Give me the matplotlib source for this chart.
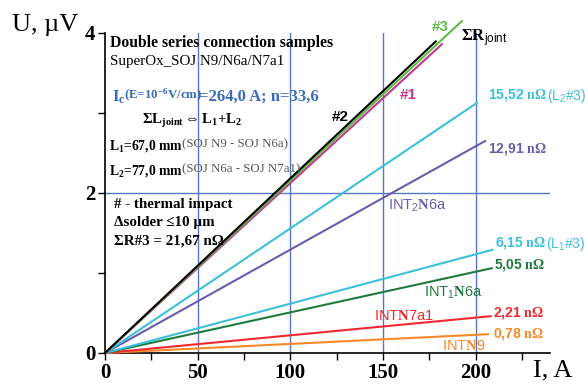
import matplotlib
matplotlib.use('Agg')
import matplotlib.pyplot as plt
from matplotlib.ticker import MultipleLocator

# line end points: current (A) and voltage (uV), all lines start at 0
names = ['#2', '#3', '#1', 'L2#3', 'INT2N6a', 'L1#3', 'INT1N6a', 'INTN7a1', 'INTN9']
I_end = [178.4, 192.5, 181.7, 200.5, 205.0, 209.0, 208.6, 208.0, 206.5]
U_end = [3.895, 4.15, 3.86, 3.125, 2.65, 1.29, 1.06, 0.46, 0.235]
colors = ['#000000', '#5dbb46', '#c2398f', '#3cc0da', '#6a5cab',
          '#3cc0da', '#1f7a3c', '#ee2a30', '#f7892a']

x_major = [0, 50, 100, 150, 200]
y_major = [0, 2, 4]

SERIF = ['Liberation Serif', 'DejaVu Serif']
SANS = ['Liberation Sans', 'DejaVu Sans']
GRID = '#5577c4'

plt.rcParams['mathtext.fontset'] = 'custom'
plt.rcParams['mathtext.rm'] = 'Liberation Serif:bold'
plt.rcParams['mathtext.bf'] = 'Liberation Serif:bold'
plt.rcParams['mathtext.sf'] = 'Liberation Sans'
plt.rcParams['mathtext.it'] = 'Liberation Serif:italic'

fig = plt.figure(figsize=(5.85, 3.85), dpi=100)
ax = fig.add_axes([105 / 585, 32 / 385, 445 / 585, 320 / 385])
ax.set_xlim(0, 240)
ax.set_ylim(0, 4)

# grid
for x in [50, 100, 150, 200]:
    ax.axvline(x, color=GRID, lw=1.0, zorder=1)
ax.axhline(2, color=GRID, lw=1.0, zorder=1)

# the lines, flattest first so the steep ones sit on top
for i in [8, 7, 6, 5, 4, 3, 2, 1, 0]:
    ax.plot([0, I_end[i]], [0, U_end[i]], color=colors[i], lw=1.5,
            clip_on=False, zorder=3)

# axes style
for s in ['top', 'right']:
    ax.spines[s].set_visible(False)
ax.spines['left'].set_linewidth(1.2)
ax.spines['bottom'].set_linewidth(1.2)
ax.set_xticks(x_major)
ax.xaxis.set_minor_locator(MultipleLocator(25))
ax.set_yticks(y_major)
ax.yaxis.set_minor_locator(MultipleLocator(1))
ax.tick_params(which='both', direction='out', length=5, width=1)
ax.tick_params(axis='x', pad=2)
ax.tick_params(axis='y', pad=2)
for lab in ax.get_xticklabels() + ax.get_yticklabels():
    lab.set_fontfamily(SERIF)
    lab.set_fontweight('bold')
    lab.set_fontsize(15)

fig.text(12 / 585, 1 - 25 / 385, 'U, \u00b5V', family=SERIF, fontsize=19, va='center')
fig.text(533 / 585, 1 - 370 / 385, 'I, A', family=SERIF, fontsize=19, va='center')


def px(xp, yp):
    return (xp - 105) / 1.855, (353 - yp) / 80


def put(xp, yp, s, **kw):
    x, y = px(xp, yp)
    return ax.text(x, y, s, va='center', ha='left', zorder=5, **kw)


# description block
put(110, 43, 'Double series connection samples', family=SERIF, weight='bold', fontsize=11.3)
put(110, 62, 'SuperOx_SOJ N9/N6a/N7a1', family=SERIF, fontsize=10.8)
blue = '#3a6ab8'
put(112, 97, r'I$_\mathregular{c}$', family=SERIF, weight='bold', fontsize=12, color=blue)
put(124, 95, r'(E=10$^\mathregular{-6}$V/cm)', family=SERIF, weight='bold', fontsize=9.3, color=blue)
put(199, 97, '=264,0 A; n=33,6', family=SERIF, weight='bold', fontsize=12, color=blue)
put(142, 121, r'$\Sigma$L$_\mathregular{joint}$$\Leftrightarrow$L$_\mathregular{1}$+L$_\mathregular{2}$',
    family=SERIF, weight='bold', fontsize=10.6)
put(109, 146, r'L$_\mathregular{1}$=67,0 mm', family=SERIF, weight='bold', fontsize=9.8)
put(182, 144, '(SOJ N9 - SOJ N6a)', family=SERIF, fontsize=9.3, color='#555555')
put(109, 171, r'L$_\mathregular{2}$=77,0 mm', family=SERIF, weight='bold', fontsize=9.8)
put(182, 169, '(SOJ N6a - SOJ N7a1)', family=SERIF, fontsize=9.3, color='#555555')
put(114, 205, '# - thermal impact', family=SERIF, weight='bold', fontsize=10.8)
put(114, 223, '\u0394solder \u226410 \u00b5m', family=SERIF, weight='bold', fontsize=10.8)
put(114, 241, '\u03a3R#3 = 21,67 n\u03a9', family=SERIF, weight='bold', fontsize=10.8)

# line labels
put(332, 117, '#2', family=SANS, weight='bold', fontsize=11, color='black')
put(400, 95, '#1', family=SANS, weight='bold', fontsize=11, color=colors[2])
put(432, 27, '#3', family=SANS, weight='bold', fontsize=11, color=colors[1])
put(461, 38, r'$\Sigma$R$_\mathsf{joint}$', family=SERIF, weight='bold', fontsize=12)
put(488, 95, r'15,52 $\mathbf{n\Omega}$', family=SANS, weight='bold', fontsize=10, color=colors[3])
put(547, 96, r'(L$_\mathregular{2}$#3)', family=SANS, fontsize=10, color=colors[3])
put(488, 149, r'12,91 $\mathbf{n\Omega}$', family=SANS, weight='bold', fontsize=10, color=colors[4])
put(388, 206, r'INT$_\mathregular{2}$$\mathbf{N}$6a', family=SANS, fontsize=10.5, color=colors[4])
put(495, 243, r'6,15 $\mathbf{n\Omega}$', family=SANS, weight='bold', fontsize=10, color=colors[5])
put(546, 244, r'(L$_\mathregular{1}$#3)', family=SANS, fontsize=10, color=colors[5])
put(494, 265, r'5,05 $\mathbf{n\Omega}$', family=SANS, weight='bold', fontsize=10, color=colors[6])
put(424, 293, r'INT$_\mathregular{1}$$\mathbf{N}$6a', family=SANS, fontsize=10.5, color=colors[6])
put(374, 316, r'INT$\mathbf{N}$7a1', family=SANS, fontsize=10.5, color=colors[7])
put(493, 313, r'2,21 $\mathbf{n\Omega}$', family=SANS, weight='bold', fontsize=10, color=colors[7])
put(493, 334, r'0,78 $\mathbf{n\Omega}$', family=SANS, weight='bold', fontsize=10, color=colors[8])
put(442, 346, r'INT$\mathbf{N}$9', family=SANS, fontsize=10.5, color=colors[8])

fig.savefig('out.png', dpi=100)
